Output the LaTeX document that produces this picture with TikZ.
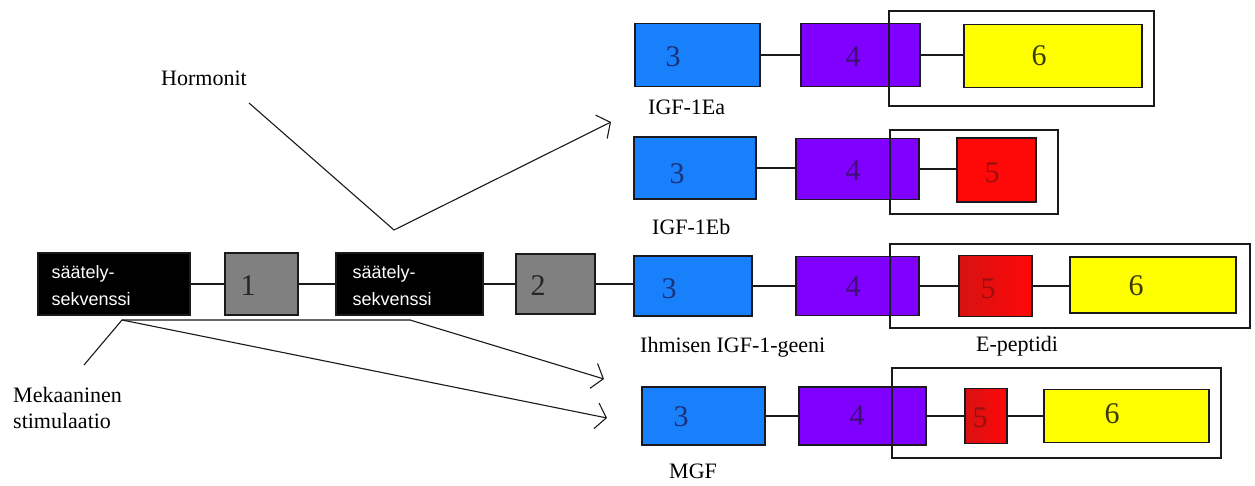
\documentclass[tikz,border=0pt]{standalone}
\usepackage{fontspec}
\setmainfont{Liberation Serif}
\setsansfont{Liberation Sans}
\usetikzlibrary{arrows.meta}

\definecolor{exblue}{RGB}{24,128,250}
\definecolor{expurple}{RGB}{128,0,255}
\definecolor{exred}{RGB}{255,8,8}
\definecolor{exreddark}{RGB}{215,18,18}
\definecolor{exyellow}{RGB}{255,255,0}
\definecolor{exgrey}{RGB}{128,128,128}
\definecolor{dblue}{RGB}{26,50,125}
\definecolor{dpurple}{RGB}{60,16,115}
\definecolor{dred}{RGB}{150,16,16}
\definecolor{dyellow}{RGB}{60,60,8}
\definecolor{ink}{RGB}{25,25,30}

\begin{document}
\begin{tikzpicture}[x=1pt,y=-1pt,
  exon/.style args={#1x#2}{draw=ink, line width=1.3pt, inner sep=0pt,
    minimum width=#1pt, minimum height=#2pt},
  frame/.style args={#1x#2}{draw=ink, line width=1.3pt, inner sep=0pt,
    minimum width=#1pt, minimum height=#2pt},
  conn/.style={draw=ink, line width=1.3pt},
  arr/.style={draw=ink, line width=1.1pt, -{Straight Barb[length=10pt,width=26pt]}},
  dig/.style={font=\fontsize{30}{32}\selectfont, inner sep=0pt},
  lab/.style={font=\fontsize{22}{26}\selectfont, inner sep=0pt, anchor=base west},
  seqtxt/.style={font=\sffamily\fontsize{18}{26.5}\selectfont, text=white,
    align=left, inner sep=0pt, anchor=north west}]

\fill[white] (0,0) rectangle (1255,486);
\useasboundingbox (0,0) rectangle (1255,486);

% ---------- IGF-1Ea ----------
\node[exon=125x63, fill=exblue]   (a3) at (697.5,55) {};
\node[exon=119x63, fill=expurple] (a4) at (860.5,55) {};
\node[exon=178x63, fill=exyellow] (a6) at (1053,56) {};
\draw[conn] (a3) -- (a4);
\draw[conn] (a4.east) -- (a4.east -| a6.west);
\node[frame=265x95] (fa) at (1021.5,58.5) {};
\node[dig, text=dblue]   (a3n) at (673,57) {3};
\node[dig, text=dpurple] (a4n) at (853,57) {4};
\node[dig, text=dyellow] (a6n) at (1039,56) {6};
\node[lab] (lea) at (648,115) {IGF-1Ea};

% ---------- IGF-1Eb ----------
\node[exon=122x62, fill=exblue]   (b3) at (695,168) {};
\node[exon=123x61, fill=expurple] (b4) at (857.5,169) {};
\node[exon=79x64,  fill=exred]    (b5) at (996.5,170) {};
\draw[conn] (b3.east) -- (b3.east -| b4.west);
\draw[conn] (b4.east) -- (b4.east -| b5.west);
\node[frame=168x84] (fb) at (974,172) {};
\node[dig, text=dblue]   (b3n) at (677,174) {3};
\node[dig, text=dpurple] (b4n) at (853,171) {4};
\node[dig, text=dred]    (b5n) at (992,173) {5};
\node[lab] (leb) at (652,235) {IGF-1Eb};

% ---------- human IGF-1 gene ----------
\node[exon=152x62, fill=black]  (s1) at (114,284) {};
\node[exon=73x62,  fill=exgrey] (g1) at (261.5,284) {};
\node[exon=147x62, fill=black]  (s2) at (409.5,284) {};
\node[exon=79x60,  fill=exgrey] (g2) at (555.5,284) {};
\node[exon=118x60, fill=exblue]   (m3) at (693,286) {};
\node[exon=123x59, fill=expurple] (m4) at (857.5,286) {};
\node[exon=73x61, left color=exreddark, right color=exred, draw=ink] (m5) at (995.5,286) {};
\node[exon=166x56, fill=exyellow] (m6) at (1153,285) {};
\draw[conn] (s1) -- (g1);
\draw[conn] (g1) -- (s2);
\draw[conn] (s2) -- (g2);
\draw[conn] (g2.east) -- (g2.east -| m3.west);
\draw[conn] (m3) -- (m4);
\draw[conn] (m4) -- (m5);
\draw[conn] (m5.east) -- (m5.east -| m6.west);
\node[frame=360x84] (fm) at (1070,286) {};
\node[seqtxt] (s1t) at ([xshift=14pt,yshift=-13pt]s1.north west) {säätely-\\sekvenssi};
\node[seqtxt] (s2t) at ([xshift=17pt,yshift=-13pt]s2.north west) {säätely-\\sekvenssi};
\node[dig, text=black!85] (g1n) at (248,286) {1};
\node[dig, text=black!85] (g2n) at (538,286) {2};
\node[dig, text=dblue]   (m3n) at (669,289) {3};
\node[dig, text=dpurple] (m4n) at (853,287) {4};
\node[dig, text=dred]    (m5n) at (988,289) {5};
\node[dig, text=dyellow] (m6n) at (1136,286) {6};
\node[lab] (lgene) at (640,352) {Ihmisen IGF-1-geeni};
\node[lab] (lep) at (976,351) {E-peptidi};

% ---------- MGF ----------
\node[exon=123x58, fill=exblue]   (n3) at (703.5,416) {};
\node[exon=127x58, fill=expurple] (n4) at (862.5,416) {};
\node[exon=42x55, left color=exreddark, right color=exred, draw=ink] (n5) at (986,416) {};
\node[exon=165x53, fill=exyellow] (n6) at (1126.5,416) {};
\draw[conn] (n3) -- (n4);
\draw[conn] (n4) -- (n5);
\draw[conn] (n5) -- (n6);
\node[frame=329x90] (fn) at (1056.5,413) {};
\node[dig, text=dblue]   (n3n) at (681,417) {3};
\node[dig, text=dpurple] (n4n) at (857,416) {4};
\node[dig, text=dred]    (n5n) at (980,418) {5};
\node[dig, text=dyellow] (n6n) at (1112,414) {6};
\node[lab] (lmgf) at (669,478) {MGF};

% ---------- regulating signals ----------
\node[lab] (hor) at (161,86) {Hormonit};
\coordinate (hs) at (249,103);
\coordinate (hv) at (394,230);
\coordinate (ht) at (611,122);
\draw[arr] (hs) -- (hv) -- (ht);

\node[lab, anchor=north west, align=left] (mek) at (13,387) {Mekaaninen\\stimulaatio};
\coordinate (ms) at (84,365);
\coordinate (mj) at (122,320);
\coordinate (mb) at (410,320);
\coordinate (t1) at (604,379);
\coordinate (t2) at (607,418);
\draw[ink, line width=1.1pt] (ms) -- (mj) -- (mb);
\draw[arr] (mb) -- (t1);
\draw[arr] (mj) -- (t2);
\end{tikzpicture}
\end{document}
